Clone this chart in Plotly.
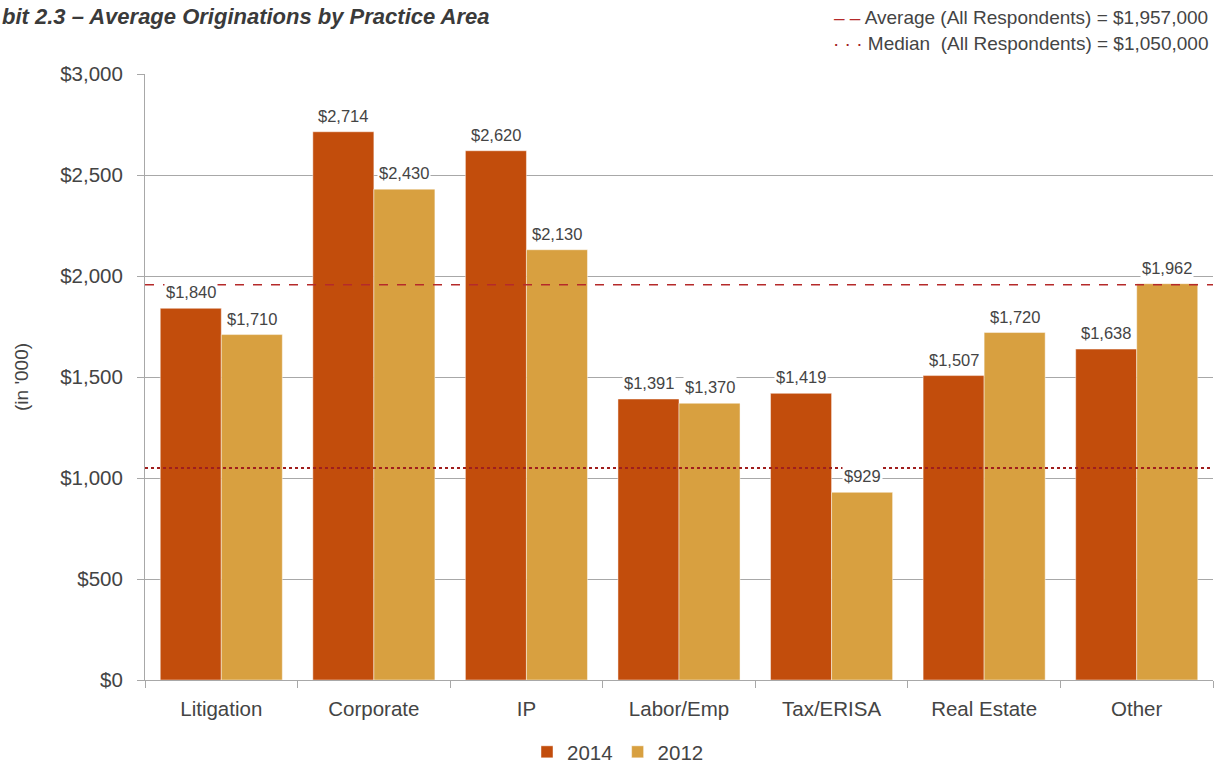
import plotly.graph_objects as go

categories = ["Litigation", "Corporate", "IP", "Labor/Emp", "Tax/ERISA", "Real Estate", "Other"]
values_2014 = [1840, 2714, 2620, 1391, 1419, 1507, 1638]
values_2012 = [1710, 2430, 2130, 1370, 929, 1720, 1962]
series_names = ["2014", "2012"]
average_all = 1957
median_all = 1050
y_ticks = [0, 500, 1000, 1500, 2000, 2500, 3000]
y_tick_labels = ["$0", "$500", "$1,000", "$1,500", "$2,000", "$2,500", "$3,000"]

C2014 = "#C24D0C"
C2012 = "#D8A040"
TXT = "#444444"
GRID = "#A8A8A8"
FONT = "Liberation Sans, Arial, sans-serif"

L, R, T, B = 145, 8, 74, 84
W, H = 1221, 764
PW, PH = W - L - R, H - T - B


def px_x(px):
    return (px - L) / PW


def px_y(py):
    return (H - B - py) / PH


fig = go.Figure()
for name, vals, col in [(series_names[0], values_2014, C2014), (series_names[1], values_2012, C2012)]:
    fig.add_trace(go.Bar(
        x=categories, y=vals, name=name,
        marker=dict(color=col, line=dict(color="rgba(255,255,255,0.45)", width=1)),
        hoverinfo="x+y",
    ))

# value labels with white background
for vals, shift in [(values_2014, -30.5), (values_2012, 30.5)]:
    for c, v in zip(categories, vals):
        fig.add_annotation(
            x=c, y=v, xref="x", yref="y", text=f"${v:,}", showarrow=False,
            xshift=shift, yshift=16, yanchor="middle",
            font=dict(family=FONT, size=16.5, color=TXT),
            bgcolor="white", borderpad=1,
        )

# average & median lines
fig.add_shape(type="line", xref="paper", x0=0, x1=1, yref="y", y0=average_all, y1=average_all,
              line=dict(color="#B52A2A", width=1.5, dash="dash"), layer="above")
fig.add_shape(type="line", xref="paper", x0=0, x1=1, yref="y", y0=median_all, y1=median_all,
              line=dict(color="#A01E1E", width=2, dash="dot"), layer="above")

# top-right reference legend
fig.add_annotation(
    xref="paper", yref="paper", x=px_x(1210), y=px_y(18), xanchor="right", yanchor="middle",
    showarrow=False, align="right",
    text='<span style="color:#B52A2A">– –</span> Average (All Respondents) = $1,957,000',
    font=dict(family=FONT, size=19, color=TXT),
)
fig.add_annotation(
    xref="paper", yref="paper", x=px_x(1210), y=px_y(44), xanchor="right", yanchor="middle",
    showarrow=False, align="right",
    text='<span style="color:#A01E1E">· · ·</span> Median  (All Respondents) = $1,050,000',
    font=dict(family=FONT, size=19, color=TXT),
)

# title (left part cropped in the original)
fig.add_annotation(
    xref="paper", yref="paper", x=px_x(0), y=px_y(17), xanchor="left", yanchor="middle",
    showarrow=False,
    text="<b><i>bit 2.3 – Average Originations by Practice Area</i></b>",
    font=dict(family="Liberation Sans, Arial, sans-serif", size=22, color="#3A3A3A"),
)

# y axis title
fig.add_annotation(
    xref="paper", yref="paper", x=px_x(21), y=px_y(377), xanchor="center", yanchor="middle",
    showarrow=False, textangle=-90, text="(in '000)",
    font=dict(family=FONT, size=19, color=TXT),
)

fig.update_layout(
    width=W, height=H,
    margin=dict(l=L, r=R, t=T, b=B, autoexpand=False),
    paper_bgcolor="white", plot_bgcolor="white",
    barmode="group", bargap=0.2, bargroupgap=0,
    font=dict(family=FONT, color=TXT),
    showlegend=True,
    legend=dict(orientation="h", x=px_x(618), xanchor="center", y=px_y(752), yanchor="middle",
                font=dict(family=FONT, size=20.5, color=TXT), itemwidth=30, traceorder="normal"),
    xaxis=dict(
        automargin=False,
        showline=True, linecolor=GRID, linewidth=1, ticks="outside", tickson="boundaries",
        ticklen=7, tickcolor=GRID, tickfont=dict(family=FONT, size=20.5, color=TXT),
        ticklabelstandoff=10,
        showgrid=False, zeroline=False,
    ),
    yaxis=dict(
        automargin=False,
        range=[0, 3000], tickvals=y_ticks, ticktext=y_tick_labels,
        showline=True, linecolor=GRID, linewidth=1, ticks="outside", ticklen=7, tickcolor=GRID,
        tickfont=dict(family=FONT, size=20.5, color=TXT), ticklabelstandoff=10,
        showgrid=True, gridcolor=GRID, gridwidth=1, zeroline=False,
    ),
)

fig.write_html(
    "out.html",
    config={"displayModeBar": False},
    post_script="document.body.style.margin='0';document.body.style.overflow='hidden';",
)
